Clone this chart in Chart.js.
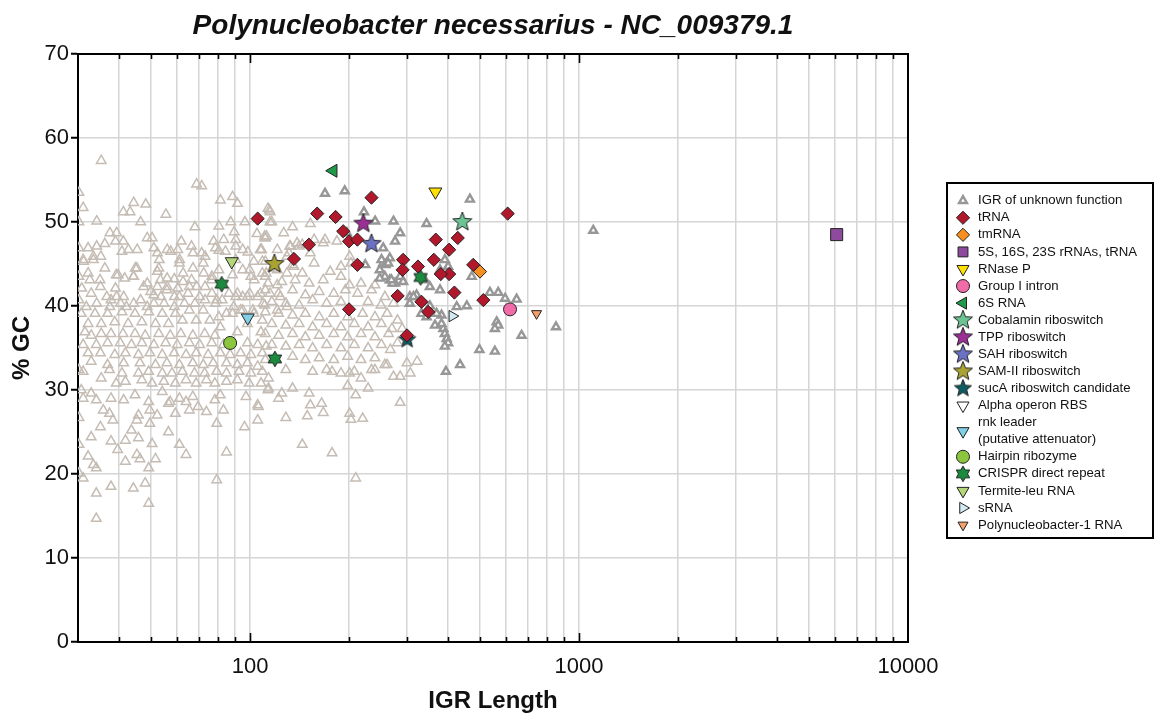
<!DOCTYPE html>
<html><head><meta charset="utf-8">
<script src="https://cdn.jsdelivr.net/npm/chart.js@4/dist/chart.umd.min.js"></script>
<style>html,body{margin:0;padding:0;background:#fff;}#wrap{width:1157px;height:719px;}</style>
</head><body><div id="wrap"><canvas id="c" width="1157" height="719"></canvas></div>
<script>
// ---------------- DATA ----------------
const chartTitle = "Polynucleobacter necessarius - NC_009379.1";
const xAxisTitle = "IGR Length";
const yAxisTitle = "% GC";
const xGridValues = [30,40,50,60,70,80,90,100,200,300,400,500,600,700,800,900,1000,2000,3000,4000,5000,6000,7000,8000,9000,10000];
const xLabelValues = [100,1000,10000];
const yTickValues = [0,10,20,30,40,50,60,70];

// IGRs (light, not in legend)
const igrBackground = [
[35.3,57.3],[30.2,53.5],[31.1,51.7],[30.2,50.0],[34.2,50.1],[44.3,52.3],[48.2,52.1],[41.2,51.2],[43.2,51.2],[46.5,50.0],[55.5,50.9],[68.8,54.5],[71.3,54.3],[68,49.4],[81.3,52.6],[88.5,53.0],[91.6,52.2],[87.4,50.0],[80.4,49.5],[96.5,50.0],[89.5,48.8],[114.5,51.4],[115,50.0],[105,48.6],[111,48.1],[107.5,46.7],[30.2,46.9],[32.2,46.9],[34.2,47.1],[36.2,47.4],[31.2,45.3],[33.4,45.5],[35.2,45.9],[36.2,44.5],[32.6,43.1],[35,43.1],[30.8,42.1],[30.2,40.7],[30.2,43.5],[37.5,48.7],[39.3,48.7],[39,47.7],[41.2,47.7],[40.8,46.5],[42.7,46.7],[45.4,46.7],[44.8,44.5],[39.7,43.7],[41.6,43.3],[44.3,43.5],[39,42.1],[36.7,41.1],[39.3,41.1],[46.5,40.7],[42.1,39.9],[48.7,48.1],[50.4,48.1],[51,46.9],[52.3,46.3],[53,45.5],[52.3,44.1],[56,46.7],[57.4,46.5],[60.3,46.7],[61.8,47.7],[61.1,45.5],[56,43.3],[58.9,43.2],[62.6,43.9],[66.4,47.1],[67.1,46.3],[67.1,44.5],[71.3,46.3],[73,45.9],[77.5,47.7],[78.5,46.9],[80.4,46.6],[83.2,47.9],[84.2,46.5],[90.5,47.9],[90.5,47.1],[95,46.7],[98.5,46.4],[90.5,45.5],[95,44.3],[99.7,44.3],[88.5,43.7],[80.4,44.3],[72.3,43.9],[76.6,43.5],[66.4,43.1],[68.8,42.3],[73,42.3],[76.6,41.5],[64.8,41.5],[58.9,41.1],[53.6,41.1],[49.9,41.7],[48.7,42.7],[52.3,42.3],[56,42.3],[60.3,42.1],[62.6,42.9],[103,43.1],[112,43.9],[118,44.5],[121,42.5],[107.5,41.5],[99.7,41.5],[95,41.1],[90.5,41.1],[86.3,41.5],[82.3,40.7],[78.5,40.3],[73,40.7],[68,40.3],[63.2,40.3],[58.9,39.9],[54.8,40.3],[51,40.3],[48.7,39.9],[44.3,40.3],[40.4,40.3],[37.5,39.9],[34.2,40.3],[31.8,39.9],[109.6,40.3],[115,41.5],[123.6,41.1],[129.5,39.9],[121,39.5],[102,39.5],[95,39.5],[88.5,39.1],[80.4,38.7],[132,47.1],[139,47.5],[129.5,45.9],[136,44.7],[129.5,43.9],
[32.9,36.5],[35.3,36.7],[37.8,36.7],[41.1,36.7],[44.7,36.7],[48,36.5],[52.8,36.7],[57.2,36.5],[61.6,36.7],[67,36.5],[72.8,36.7],[78.2,36.5],[31.1,35.4],[34.1,35.4],[36.9,35.6],[40.3,35.6],[43.6,35.4],[46.9,35.6],[51,35.4],[55.4,35.6],[60.1,35.4],[65.4,35.6],[70.3,35.4],[76.5,35.6],[83,35.4],[98.2,35.6],[105.5,35.4],[112,35.2],[32.2,34.4],[35.1,34.4],[38.8,34.2],[41.8,34.4],[45.8,34.2],[49.6,34.4],[54.1,34.2],[58.8,34.4],[63.9,34.2],[68.6,34.4],[74.6,34.2],[81.2,34.4],[87,34.2],[93.6,34.4],[100.6,34.2],[109,34.4],[32.9,33.4],[36.9,33.0],[41.3,33.2],[46.3,33.2],[51.6,33.0],[55.9,33.2],[61,33.0],[67,33.2],[72.1,33.0],[77.3,33.2],[84.8,33.2],[91.5,33.0],[98.2,33.2],[105.5,32.8],[31.1,32.2],[37.4,32.4],[40.8,32.0],[45.8,32.0],[49.2,32.2],[54.1,32.0],[57.9,32.0],[62.3,32.2],[67.8,32.0],[72.8,32.0],[79.2,32.2],[84.8,32.0],[92.6,32.2],[100.6,32.0],[109,32.2],[35.3,31.4],[39.2,30.8],[41.8,31.0],[46.9,31.2],[50.4,30.8],[54.7,31.0],[59.3,30.8],[63.9,31.2],[68.6,30.8],[73.7,31.2],[78.2,30.8],[84.8,31.0],[91.5,31.2],[99.4,30.8],[108,30.8],[113.4,30.0],[30.7,30.0],[32.9,29.6],[31.1,29.0],[34.1,28.8],[37.8,29.0],[41.3,28.8],[44.7,29.4],[49.2,28.6],[54.1,29.8],[57.2,28.6],[61,29.0],[63.9,28.6],[67,29.2],[69.5,28.0],[73.7,27.4],[65.4,27.6],[59.3,27.2],[56.5,28.4],[52.2,27.0],[49.6,27.6],[45.8,27.0],[45.3,26.4],[49.6,26.0],[43.6,25.2],[37.4,27.2],[35.8,27.6],[38.3,26.4],[35.1,25.6],[32.9,24.4],[37.8,23.9],[39.6,22.9],[41.8,24.0],[45.8,24.3],[50.4,23.6],[51.6,21.8],[45.3,22.3],[46.3,21.8],[41.8,21.5],[32.2,22.1],[33.4,21.1],[34.1,20.7],[31.1,19.5],[49.2,20.7],[56.5,25.0],[61,23.5],[63.9,22.3],[78.2,28.8],[81.2,29.4],[83,27.6],[79.2,26.0],[84.8,22.6],[96.2,25.6],[97.2,29.2],[105.5,28.2],[105.5,26.4],[79.2,19.3],[37.8,18.5],[44.2,18.3],[48,18.9],[34.1,17.7],[49.2,16.5],[34.1,14.7],[30.2,32.4],[30.2,26.7],[30.2,23.5],[30.2,20.1],
[115.1,51.2],[116.5,50.0],[152.5,49.8],[111.3,48.1],[144.2,47.3],[167,47.5],[108.4,46.7],[121,46.7],[131.4,46.3],[152.5,46.3],[183.7,47.7],[200.7,45.9],[111.3,45.3],[134.7,44.9],[156.6,45.1],[189,44.7],[202.6,45.1],[144.2,43.9],[175.3,44.1],[189,43.5],[111.3,43.5],[124.9,42.9],[137.2,43.1],[151.3,42.7],[167,43.1],[200.7,42.5],[217.5,42.7],[239.7,42.5],[111.3,41.9],[122.1,41.5],[134.7,41.9],[147.3,41.3],[162.3,41.7],[179.7,41.5],[195,41.9],[212.4,41.5],[234.1,41.9],[257.1,41.1],[116.5,40.5],[128.5,40.3],[141,40.1],[155,40.7],[171,40.3],[189,40.5],[228.5,40.5],[250,40.1],[273,40.3],[111.3,39.3],[122.1,39.1],[134.7,38.9],[147.3,39.1],[162.3,38.7],[179.7,39.1],[198,38.7],[220,39.1],[239.7,38.7],[261,39.1],[280.7,38.3],[116.5,37.9],[128.5,37.7],[141,37.9],[155,37.5],[171,37.9],[189,37.5],[207.5,37.9],[228.5,37.5],[250.8,37.9],[270,37.3],[290,37.3],[111.3,36.7],[122.1,36.5],[134.7,36.7],[147.3,36.3],[162.3,36.5],[179.7,36.7],[198,36.3],[217.5,36.7],[239.7,36.3],[263.7,36.7],[280.7,35.6],[116.5,35.4],[128.5,35.2],[141,35.4],[155,35.0],[171,35.4],[189,35.0],[207.5,35.4],[228.5,35.0],[250.8,35.4],[267,34.8],[134.7,34.0],[147.3,33.6],[162.3,33.8],[179.7,33.6],[198,34.0],[217.5,33.6],[239.7,33.8],[261,33.0],[111.3,33.6],[155,32.2],[171,32.4],[189,32.0],[207.5,32.2],[234.1,32.4],[128.5,32.4],[134.7,49.4],[141,47.1],[121,44.3],
[113.8,31.4],[124.9,29.6],[134.7,30.2],[151.3,29.6],[152.5,28.2],[165,28.4],[167,27.3],[149.3,26.9],[128.5,26.7],[200.7,27.2],[202.6,26.5],[220,26.6],[286,28.5],[209.5,29.4],[228.5,30.2],[198,30.5],[177.6,32.2],[257,33.0],[273,31.6],[286,31.6],[307,32.0],[300,33.2],[322,33.4],[144.2,23.5],[177.6,22.5],[209.5,19.5],[200.7,32.0],[217.5,31.4],[239.7,32.4],[113.8,30.2],[122.1,29.0],[106,28.0],
[156.6,47.9],[169,47.9],[126.6,48.7],[132.7,47.1],[112.3,48.3],[110.8,48.3],[113.4,51.6],[108,46.7],[102.7,45.3],[109,45.3],[109,43.9],[100.6,43.5],[113.4,42.7],[105.5,41.1],[110.8,40.1],[98.2,41.1],[91.5,41.5],[93.6,39.5],[102.7,39.1],[109,38.3],[89.2,39.9],[98.2,37.9],[91.5,36.9],[108,36.9],[79.2,40.7],[84.8,39.1],[81.2,37.5],[75.5,38.3],[72.1,39.5],[68.6,38.3],[65.4,39.5],[62.3,38.3],[59.3,39.1],[56.5,37.9],[54.1,39.1],[51.6,37.9],[49.2,39.3],[46.9,38.1],[44.7,39.1],[42.6,37.9],[40.8,39.3],[38.8,38.1],[36.9,39.1],[35.3,37.9],[33.8,39.1],[32.2,37.9],[30.7,39.1],[31.5,36.9],[35.1,42.3],[32.9,41.5],[37.8,40.7],[41.3,41.1],[47.5,42.3],[51,41.3],[55.9,41.9],[61,41.1],[65.4,42.3],[70.3,41.1],[76.5,43.1],[53.4,43.1],[45.3,44.5],[52.8,44.5],[61,45.1],[72.1,45.1],[44.2,43.5],[39.2,43.7],[32.2,43.9],[33.4,45.9],[31.1,45.5]
];

// IGR of unknown function (grey)
const igrUnknown = [
[169,53.4],[194,53.7],[466,52.7],[273,50.1],[344,49.8],[240,50.1],[222,51.2],[286,48.7],[254,46.9],[197,48.7],[224,44.9],[276,47.7],[266,45.7],[254,45.1],[248,44.3],[257,43.5],[266,43.1],[276,42.7],[286,43.5],[306,41.1],[321,41.3],[340,43.1],[352,42.3],[378,44.3],[400,44.7],[391,45.5],[472,43.5],[536,41.6],[568,41.6],[596,40.9],[646,40.8],[562,38.1],[568,37.7],[555,37.3],[669,36.5],[498,34.8],[555,34.6],[435,33.0],[394,32.2],[851,37.5],[387,37.3],[391,36.7],[396,36.1],[400,35.6],[391,35.2],[365,37.7],[382,38.9],[425,39.9],[456,40.0],[352,40.0],[332,39.1],[251,45.5],[258,44.9],[271,42.7],[314,41.1],[306,40.3],[344,38.7],[1105,49.0],[263,45.1],[248,43.3],[269,43.1],[292,42.9],[369,39.1],[378,41.9],[382,37.9]
];
const tRNA = [[105.5,50.4],[160,51.0],[182,50.6],[234,52.9],[151,47.3],[136,45.6],[192,48.9],[200,47.7],[212,47.9],[212,44.9],[200,39.6],[292,45.5],[291,44.3],[281,41.2],[324,44.7],[332,40.5],[348,39.3],[367,47.9],[362,45.5],[403,46.7],[428,48.1],[403,43.8],[380,43.8],[418,41.6],[477,44.9],[512,40.7],[607,51.0],[300,36.5]];
const tmRNA = [[500,44.1]];
const rRNA = [[6070,48.5]];
const rnaseP = [[366,53.6]];
const groupIIntron = [[617,39.6]];
const sixS = [[179,56.1]];
const cobalamin = [[442,50.0]];
const tpp = [[221,49.8]];
const sah = [[234,47.4]];
const samII = [[118.6,45.0]];
const sucA = [[300.5,36.0]];
const alphaOperon = [];
const rnkLeader = [[98.4,38.6]];
const hairpin = [[87,35.6]];
const crispr = [[82,42.6],[119,33.7],[330,43.4]];
const termiteLeu = [[88,45.3]];
const sRNA = [[412,38.8]];
const polyn1 = [[743,39.1]];

const legendLabels = ["IGR of unknown function","tRNA","tmRNA","5S, 16S, 23S rRNAs, tRNA","RNase P","Group I intron","6S RNA","Cobalamin riboswitch","TPP riboswitch","SAH riboswitch","SAM-II riboswitch","sucA riboswitch candidate","Alpha operon RBS",["rnk leader","(putative attenuator)"],"Hairpin ribozyme","CRISPR direct repeat","Termite-leu RNA","sRNA","Polynucleobacter-1 RNA"];

// ---------------- STYLE HELPERS ----------------
const FONT = '"Liberation Sans", Arial, Helvetica, sans-serif';
function starCanvas(n, outer, inner, fill, stroke, lw) {
  const s = Math.ceil((outer + 2) * 2);
  const c = document.createElement('canvas'); c.width = s; c.height = s;
  const g = c.getContext('2d'); g.translate(s / 2, s / 2);
  g.beginPath();
  for (let i = 0; i < n * 2; i++) {
    const r = i % 2 ? inner : outer; const a = -Math.PI / 2 + i * Math.PI / n;
    g.lineTo(r * Math.cos(a), r * Math.sin(a));
  }
  g.closePath(); g.fillStyle = fill; g.fill(); g.lineWidth = lw; g.strokeStyle = stroke; g.lineJoin = 'miter'; g.stroke();
  return c;
}
const pts = a => a.map(p => ({x: p[0], y: p[1]}));
function ds(label, data, style) {
  return Object.assign({label, data: pts(data), borderWidth: 1, borderColor: '#222', pointRotation: 0, order: 0}, style);
}
const datasets = [
  ds('bg', igrBackground, {pointStyle:'triangle', pointRadius:5.5, backgroundColor:'rgba(0,0,0,0)', borderColor:'#c5bcb4', borderWidth:1.5, order:100, legend:false}),
  ds(legendLabels[0], igrUnknown, {pointStyle:'triangle', pointRadius:4.6, backgroundColor:'#ffffff', borderColor:'#979797', borderWidth:2.4, order:90}),
  ds(legendLabels[1], tRNA, {pointStyle:'rectRot', pointRadius:6.6, backgroundColor:'#b2182b'}),
  ds(legendLabels[2], tmRNA, {pointStyle:'rectRot', pointRadius:6.6, backgroundColor:'#f7901e'}),
  ds(legendLabels[3], rRNA, {pointStyle:'rect', pointRadius:8.5, backgroundColor:'#8e4b9e'}),
  ds(legendLabels[4], rnaseP, {pointStyle:'triangle', pointRadius:7.5, pointRotation:180, backgroundColor:'#ffe000'}),
  ds(legendLabels[5], groupIIntron, {pointStyle:'circle', pointRadius:6.5, backgroundColor:'#f06ba8'}),
  ds(legendLabels[6], sixS, {pointStyle:'triangle', pointRadius:7.5, pointRotation:-90, backgroundColor:'#1f9a48'}),
  ds(legendLabels[7], cobalamin, {pointStyle: starCanvas(5, 10, 4.3, '#6cc495', '#222', 1)}),
  ds(legendLabels[8], tpp, {pointStyle: starCanvas(5, 10, 4.3, '#9b2f96', '#222', 1)}),
  ds(legendLabels[9], sah, {pointStyle: starCanvas(5, 10, 4.3, '#6a72c4', '#222', 1)}),
  ds(legendLabels[10], samII, {pointStyle: starCanvas(5, 10, 4.3, '#a9a334', '#222', 1)}),
  ds(legendLabels[11], sucA, {pointStyle: starCanvas(5, 9, 3.9, '#0e5c63', '#222', 1)}),
  ds(legendLabels[12], alphaOperon, {pointStyle:'triangle', pointRadius:7, pointRotation:180, backgroundColor:'#ffffff'}),
  ds(legendLabels[13], rnkLeader, {pointStyle:'triangle', pointRadius:7.5, pointRotation:180, backgroundColor:'#82d0e8'}),
  ds(legendLabels[14], hairpin, {pointStyle:'circle', pointRadius:6.5, backgroundColor:'#8cc63f'}),
  ds(legendLabels[15], crispr, {pointStyle: starCanvas(6, 7.8, 4.5, '#1b8a3e', '#222', 1)}),
  ds(legendLabels[16], termiteLeu, {pointStyle:'triangle', pointRadius:7.5, pointRotation:180, backgroundColor:'#b2d678'}),
  ds(legendLabels[17], sRNA, {pointStyle:'triangle', pointRadius:6.5, pointRotation:90, backgroundColor:'#d4ebf2'}),
  ds(legendLabels[18], polyn1, {pointStyle:'triangle', pointRadius:5.8, pointRotation:180, backgroundColor:'#f4a06a'})
];

const decorPlugin = {
  id: 'decor',
  afterDatasetsDraw(chart) {
    const {ctx, chartArea: a, scales} = chart;
    const xs = scales.x;
    ctx.save();
    ctx.strokeStyle = '#000'; ctx.lineWidth = 2;
    ctx.beginPath();
    ctx.moveTo(a.left - 1, a.top); ctx.lineTo(a.right, a.top); ctx.lineTo(a.right, a.bottom + 1);
    ctx.stroke();
    ctx.lineWidth = 1.6;
    ctx.beginPath();
    xGridValues.forEach(v => {
      const px = Math.round(xs.getPixelForValue(v)) + 0.5;
      if (v === xs.min || v === xs.max) return;
      const len = xLabelValues.includes(v) ? 9 : 5;
      ctx.moveTo(px, a.bottom); ctx.lineTo(px, a.bottom - len);
      ctx.moveTo(px, a.top); ctx.lineTo(px, a.top + len);
    });
    ctx.stroke();
    ctx.restore();
  },
  afterDraw(chart) {
    const {ctx, chartArea: a} = chart;
    ctx.save();
    ctx.fillStyle = '#111';
    ctx.textAlign = 'center';
    ctx.textBaseline = 'alphabetic';
    ctx.font = 'italic bold 28px ' + FONT;
    ctx.fillText(chartTitle, (a.left + a.right) / 2, 34);
    ctx.font = 'bold 24px ' + FONT;
    ctx.textBaseline = 'middle';
    ctx.fillText(xAxisTitle, (a.left + a.right) / 2, 701);
    ctx.save();
    ctx.translate(22, (a.top + a.bottom) / 2);
    ctx.rotate(-Math.PI / 2);
    ctx.fillText(yAxisTitle, 0, 0);
    ctx.restore();

    // legend
    const L = {left: 947, top: 183, right: 1153, bottom: 538};
    ctx.fillStyle = '#fff';
    ctx.fillRect(L.left, L.top, L.right - L.left, L.bottom - L.top);
    ctx.strokeStyle = '#000'; ctx.lineWidth = 2;
    ctx.strokeRect(L.left, L.top, L.right - L.left, L.bottom - L.top);
    const rowY0 = 200.7, rowH = 17.07;
    let row = 0;
    ctx.font = '13.2px ' + FONT;
    ctx.textAlign = 'left';
    ctx.textBaseline = 'middle';
    chart.data.datasets.forEach(d => {
      if (d.legend === false) return;
      const lines = Array.isArray(d.label) ? d.label : [d.label];
      const yc = rowY0 + (row + (lines.length - 1) / 2) * rowH;
      ctx.fillStyle = d.backgroundColor || '#fff';
      ctx.strokeStyle = d.borderColor; ctx.lineWidth = d.borderWidth;
      const r = typeof d.pointStyle === 'string' ? Math.min(d.pointRadius, 7) : 0;
      Chart.helpers.drawPoint(ctx, {pointStyle: d.pointStyle, rotation: d.pointRotation || 0, radius: r, borderWidth: d.borderWidth}, 963, yc);
      ctx.fillStyle = '#111';
      lines.forEach((t, i) => ctx.fillText(t, 978, rowY0 + (row + i) * rowH));
      row += lines.length;
    });
    ctx.restore();
  }
};

new Chart(document.getElementById('c'), {
  type: 'scatter',
  data: {datasets},
  options: {
    responsive: false, animation: false, events: [],
    layout: {padding: {left: 0, top: 54, right: 249, bottom: 0}, autoPadding: false},
    plugins: {legend: {display: false}, tooltip: {enabled: false}, title: {display: false}},
    scales: {
      x: {
        type: 'logarithmic', min: 30, max: 10000,
        afterBuildTicks: s => { s.ticks = xGridValues.map(v => ({value: v})); },
        afterFit: s => { s.height = 77; },
        ticks: {autoSkip: false, maxRotation: 0, minRotation: 0, padding: 12, color: '#111',
          font: {family: FONT, size: 22},
          callback: v => xLabelValues.includes(v) ? String(v) : ''},
        grid: {color: '#d5d5d5', lineWidth: 1.5, drawTicks: false},
        border: {color: '#000', width: 2}
      },
      y: {
        min: 0, max: 70,
        afterBuildTicks: s => { s.ticks = yTickValues.map(v => ({value: v})); },
        afterFit: s => { s.width = 78; },
        ticks: {padding: 2, color: '#111', font: {family: FONT, size: 22}},
        grid: {color: '#d5d5d5', lineWidth: 1.5, drawTicks: true, tickLength: 7, tickColor: '#000', tickWidth: 2},
        border: {color: '#000', width: 2}
      }
    }
  },
  plugins: [decorPlugin]
});
</script></body></html>
